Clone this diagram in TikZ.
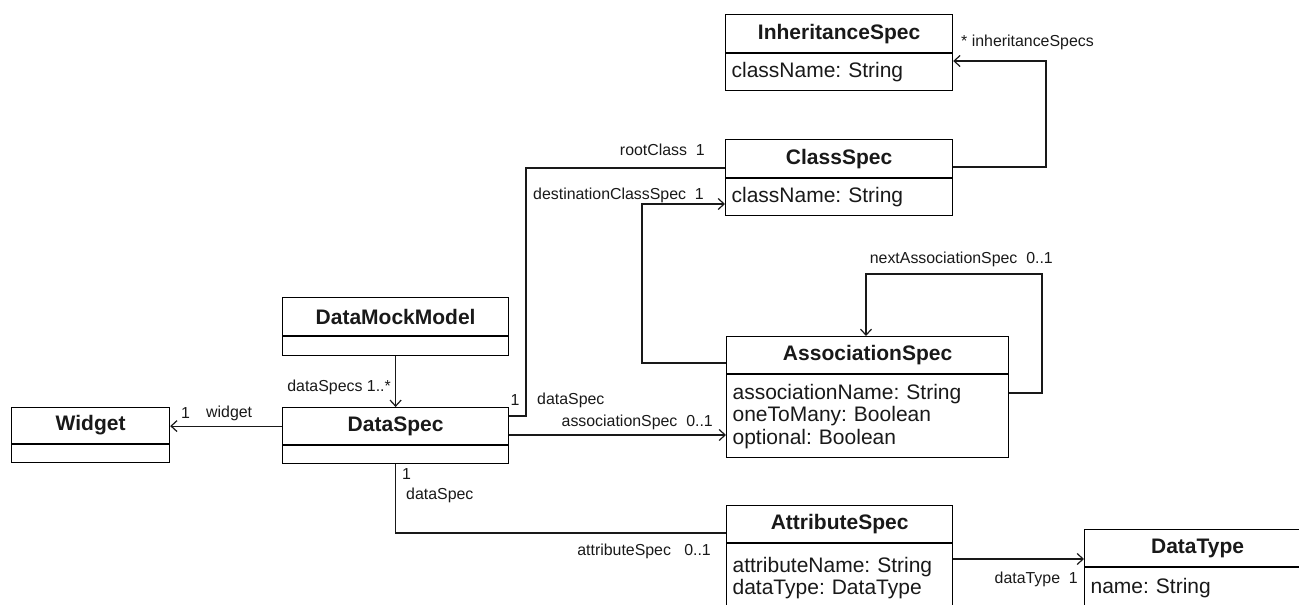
\documentclass[tikz,border=0pt]{standalone}
\usepackage{fontspec}
\setmainfont{Liberation Sans}
\usetikzlibrary{arrows.meta}
\frenchspacing
\tikzset{
  box/.style={draw, line width=1.2pt, inner sep=0pt, anchor=north west, text=black!90},
  hdr/.style={box, font=\fontsize{21}{23}\selectfont\bfseries},
  attr/.style={box, align=left, font=\fontsize{21}{22.5}\selectfont},
  conn/.style={line width=1.2pt, draw=black!90},
  arr/.style={conn, -{Straight Barb[length=6pt,width=11pt]}},
  lbl/.style={inner sep=0pt, font=\fontsize{15.9}{18}\selectfont, text=black!90}
}
\begin{document}
\begin{tikzpicture}[x=1pt,y=-1pt]
\useasboundingbox (0,0) rectangle (1299,605);
\clip (0,0) rectangle (1299,605);

% classes
\node[hdr, minimum width=227pt, minimum height=38pt] (inh) at (725,14) {InheritanceSpec};
\node[attr, minimum width=227pt, minimum height=37pt, text width=215pt] (inhA) at (inh.south west) {className: String};

\node[hdr, minimum width=227pt, minimum height=38pt] (cls) at (725,139) {ClassSpec};
\node[attr, minimum width=227pt, minimum height=37pt, text width=215pt] (clsA) at (cls.south west) {className: String};

\node[hdr, minimum width=226pt, minimum height=38pt] (dmm) at (282,297) {DataMockModel};
\node[attr, minimum width=226pt, minimum height=19pt, text width=214pt] (dmmA) at (dmm.south west) {};

\node[hdr, minimum width=226pt, minimum height=37pt] (ds) at (282,407) {DataSpec};
\node[attr, minimum width=226pt, minimum height=18pt, text width=214pt] (dsA) at (ds.south west) {};

\node[hdr, minimum width=158pt, minimum height=36pt] (wid) at (11,407) {Widget};
\node[attr, minimum width=158pt, minimum height=18pt, text width=146pt] (widA) at (wid.south west) {};

\node[hdr, minimum width=282pt, minimum height=37pt] (as) at (726,336) {AssociationSpec};
\node[attr, minimum width=282pt, minimum height=83pt, text width=270pt] (asA) at (as.south west) {associationName: String\\oneToMany: Boolean\\optional: Boolean};

\node[hdr, minimum width=226pt, minimum height=37pt] (ats) at (726,505) {AttributeSpec};
\node[attr, minimum width=226pt, minimum height=69pt, text width=214pt] (atsA) at (ats.south west) {attributeName: String\\dataType: DataType};

\node[hdr, minimum width=226pt, minimum height=37pt] (dt) at (1084,529) {DataType};
\node[attr, minimum width=226pt, minimum height=40pt, text width=214pt] (dtA) at (dt.south west) {name: String};

% connectors
\draw[arr] (cls.east |- 0,167) -| (1046,61) -- (inhA.east |- 0,61);
\draw[conn] (ds.east |- 0,416) -| (526,168) -- (cls.west |- 0,168);
\draw[arr] (as.west |- 0,363) -| (642,204) -- (clsA.west |- 0,204);
\draw[arr] (asA.east |- 0,393) -| (1042,274) -| (as.north -| 866,0);
\draw[arr] (ds.east |- 0,435) -- (asA.west |- 0,435);
\draw[arr] (dmmA.south) -- (ds.north);
\draw[arr] (ds.west) -- (wid.east |- ds.west);
\draw[conn] (dsA.south) |- (ats.west |- 0,533);
\draw[arr] (atsA.east |- 0,559) -- (dt.west |- 0,559);

% labels
\node[lbl, anchor=west] (l1) at (961,42) {* inheritanceSpecs};
\node[lbl, anchor=east] (l2) at (705,150) {rootClass\ \ 1};
\node[lbl, anchor=east] (l3) at (704,195) {destinationClassSpec\ \ 1};
\node[lbl, anchor=east] (l4) at (1053,259) {nextAssociationSpec\ \ 0..1};
\node[lbl, anchor=east] (l5) at (391,387) {dataSpecs 1..*};
\node[lbl] (l6) at (515,400) {1};
\node[lbl, anchor=west] (l7) at (537,400) {dataSpec};
\node[lbl, anchor=east] (l8) at (713,422) {associationSpec\ \ 0..1};
\node[lbl, anchor=west] (l9) at (181,413) {1};
\node[lbl, anchor=west] (l10) at (206,413) {widget};
\node[lbl, anchor=west] (l11) at (402,474) {1};
\node[lbl, anchor=west] (l12) at (406,495) {dataSpec};
\node[lbl, anchor=east] (l13) at (711,551) {attributeSpec\ \ \ 0..1};
\node[lbl, anchor=east] (l14) at (1078,579) {dataType\ \ 1};
\end{tikzpicture}
\end{document}
